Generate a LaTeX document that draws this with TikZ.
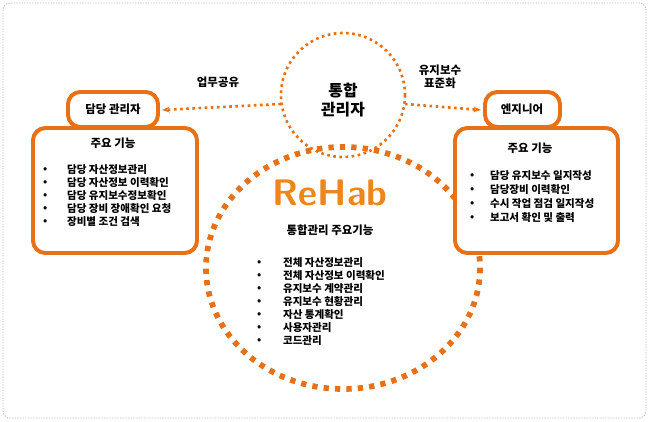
\documentclass[tikz,border=0pt]{standalone}
\usepackage{fontspec}
\setmainfont{Noto Sans CJK KR}
\usetikzlibrary{arrows.meta, positioning}
\definecolor{rhorange}{RGB}{232,112,22}
\definecolor{rhyellow}{RGB}{250,190,40}
\begin{document}
\begin{tikzpicture}[
  x=0.4mm, y=-0.4mm,
  ringbox/.style={draw=rhorange, line width=4.5pt, rounded corners=14pt, fill=white},
  dotline/.style={draw=rhorange, line width=3pt, dash pattern=on 3pt off 4pt},
  dotarrow/.style={dotline, -{Stealth[length=3mm]}},
  itemtext/.style={font=\fontsize{12}{14}\selectfont\bfseries, anchor=west, inner sep=1pt},
  every node/.style={font=\fontsize{13}{15}\selectfont\bfseries}
]
\useasboundingbox (0,0) rectangle (650,422);
% outer frame
\draw[gray!50, line width=1pt, dash pattern=on 1.5pt off 1.5pt, rounded corners=8pt] (3,3) rectangle (646,418);

% centre circles
\draw[dotline] (343,95) circle[radius=62];
\draw[draw=rhorange, line width=6.5pt, dash pattern=on 6pt off 7pt] (343,268) ellipse[x radius=137, y radius=121];
\node[align=center, font=\fontsize{18}{21}\selectfont\bfseries, inner sep=2pt] (admin) at (343,100) {통합\\관리자};
\node[font=\fontsize{42}{44}\selectfont\sffamily\bfseries, text=rhorange!70!rhyellow] (rehab) at (330,193) {ReHab};
\node (maintitle) at (330,230) {통합관리 주요기능};
\foreach \t [count=\i] in {전체 자산정보관리, 전체 자산정보 이력확인, 유지보수 계약관리, 유지보수 현황관리, 자산 통계확인, 사용자관리, 코드관리} {
  \node[itemtext] (m\i) at (282,{250+13*\i}) {\t};
  \node[itemtext] at (256,{250+13*\i}) {•};
}

% left: manager
\draw[ringbox] (68,92) rectangle (158,127);
\node (mgr) at (113,109) {담당 관리자};
\draw[ringbox] (33,128) rectangle (197,253);
\node (mgrtitle) at (113,143) {주요 기능};
\foreach \t [count=\i] in {담당 자산정보관리, 담당 자산정보 이력확인, 담당 유지보수정보확인, 담당 장비 장애확인 요청, 장비별 조건 검색} {
  \node[itemtext] (l\i) at (66,{157+13*\i}) {\t};
  \node[itemtext] at (42,{157+13*\i}) {•};
}

% right: engineer
\draw[ringbox] (485,92) rectangle (560,127);
\node (eng) at (522,109) {엔지니어};
\draw[ringbox] (455,128) rectangle (618,253);
\node (engtitle) at (530,148) {주요 기능};
\foreach \t [count=\i] in {담당 유지보수 일지작성, 담당장비 이력확인, 수시 작업 점검 일지작성, 보고서 확인 및 출력} {
  \node[itemtext] (r\i) at (489,{162+14*\i}) {\t};
  \node[itemtext] at (469,{162+14*\i}) {•};
}

% connections
\coordinate (aw) at (281,104);
\coordinate (ae) at (405,104);
\coordinate (mgre) at (162,110);
\coordinate (engw) at (481,110);
\draw[dotarrow] (aw) -- (mgre);
\draw[dotarrow] (ae) -- (engw);
\node (share) at (218,82) {업무공유};
\node[align=center] (std) at (440,77) {유지보수\\표준화};
\end{tikzpicture}
\end{document}
